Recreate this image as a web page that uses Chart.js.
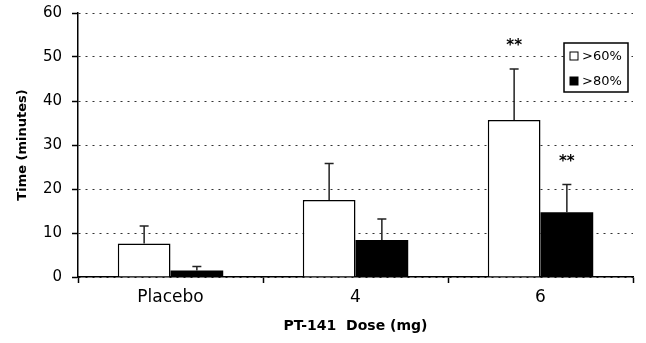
<!DOCTYPE html>
<html>
<head>
<meta charset="utf-8">
<script src="https://cdn.jsdelivr.net/npm/chart.js@4.4.0/dist/chart.umd.min.js"></script>
<style>
  html, body { margin: 0; padding: 0; background: #fff; }
  #wrap { width: 646px; height: 343px; }
</style>
</head>
<body>
<div id="wrap"><canvas id="grafico"></canvas></div>
<script>
// dados
const doses = ['Placebo', '4', '6'];
const serie60 = [7.6, 17.5, 35.7];
const erro60 = [4.0, 8.3, 11.6];
const serie80 = [1.5, 8.4, 14.7];
const erro80 = [0.9, 4.8, 6.3];
const estrelas60 = ['', '', '**'];
const estrelas80 = ['', '', '**'];
const yTicks = [0, 10, 20, 30, 40, 50, 60];

const fonte = "'DejaVu Sans', sans-serif";

const barrasErro = {
    id: 'barrasErro',
    afterDatasetsDraw(chart) {
        const ctx = chart.ctx;
        const y = chart.scales.y;
        const erros = [erro60, erro80];
        const estrelas = [estrelas60, estrelas80];
        chart.data.datasets.forEach((ds, i) => {
            const meta = chart.getDatasetMeta(i);
            meta.data.forEach((bar, j) => {
                const topo = y.getPixelForValue(ds.data[j] + erros[i][j]);
                ctx.save();
                ctx.strokeStyle = '#222';
                ctx.lineWidth = 1.5;
                ctx.beginPath();
                ctx.moveTo(bar.x, bar.y);
                ctx.lineTo(bar.x, topo);
                ctx.moveTo(bar.x - 4.5, topo);
                ctx.lineTo(bar.x + 4.5, topo);
                ctx.stroke();
                if (estrelas[i][j]) {
                    ctx.fillStyle = '#000';
                    ctx.font = 'bold 15px ' + fonte;
                    ctx.textAlign = 'center';
                    ctx.textBaseline = 'alphabetic';
                    ctx.fillText(estrelas[i][j], bar.x, topo - 19);
                }
                ctx.restore();
            });
        });
    }
};

const legendaCaixa = {
    id: 'legendaCaixa',
    afterDraw(chart) {
        const ctx = chart.ctx;
        const area = chart.chartArea;
        const x0 = area.right - 69, y0 = area.top + 30, w = 64, h = 49;
        ctx.save();
        ctx.fillStyle = '#fff';
        ctx.fillRect(x0, y0, w, h);
        ctx.strokeStyle = '#000';
        ctx.lineWidth = 1.5;
        ctx.strokeRect(x0, y0, w, h);
        chart.data.datasets.forEach((ds, i) => {
            const cy = y0 + 13 + i * 25;
            ctx.fillStyle = ds.backgroundColor;
            ctx.fillRect(x0 + 6, cy - 4, 8, 8);
            ctx.lineWidth = 1;
            ctx.strokeRect(x0 + 6, cy - 4, 8, 8);
            ctx.fillStyle = '#000';
            ctx.font = '13px ' + fonte;
            ctx.textAlign = 'left';
            ctx.textBaseline = 'middle';
            ctx.fillText(ds.label, x0 + 18, cy + 1);
        });
        ctx.restore();
    }
};

const ctx = document.getElementById('grafico').getContext('2d');
new Chart(ctx, {
    type: 'bar',
    data: {
        labels: doses,
        datasets: [{
            label: '>60%',
            data: serie60,
            backgroundColor: '#ffffff',
            borderColor: '#000000',
            borderWidth: 1.5,
            categoryPercentage: 0.57,
            barPercentage: 1.0
        }, {
            label: '>80%',
            data: serie80,
            backgroundColor: '#000000',
            borderColor: '#000000',
            borderWidth: 0,
            categoryPercentage: 0.57,
            barPercentage: 1.0
        }]
    },
    options: {
        responsive: true,
        maintainAspectRatio: false,
        animation: false,
        layout: { padding: { top: 13, right: 13, left: 0, bottom: 0 } },
        plugins: {
            legend: { display: false },
            tooltip: { enabled: false }
        },
        scales: {
            x: {
                afterFit: s => { s.height = 66; },
                grid: {
                    display: true,
                    drawOnChartArea: false,
                    tickLength: 6,
                    tickColor: '#000',
                    tickWidth: 1.5
                },
                border: { color: '#000', width: 1.5 },
                ticks: {
                    color: '#000',
                    padding: 4,
                    font: { family: fonte, size: 17 }
                },
                title: {
                    display: true,
                    text: 'PT-141  Dose (mg)',
                    color: '#000',
                    font: { family: fonte, size: 14, weight: 'bold' },
                    padding: { top: 4, bottom: 8 }
                }
            },
            y: {
                min: 0,
                max: 60,
                afterFit: s => {
                    s.width = 78;
                    s.paddingTop = 0;
                    s.paddingBottom = 0;
                },
                afterBuildTicks: s => { s.ticks = yTicks.map(v => ({ value: v })); },
                grid: {
                    color: '#333',
                    lineWidth: 1,
                    tickLength: 6,
                    tickColor: '#000',
                    tickWidth: 1.5,
                    tickBorderDash: []
                },
                border: { color: '#000', width: 1.5, dash: [2, 5] },
                ticks: {
                    color: '#000',
                    padding: 10,
                    font: { family: fonte, size: 15 }
                },
                title: {
                    display: true,
                    text: 'Time (minutes)',
                    color: '#000',
                    font: { family: fonte, size: 13, weight: 'bold' },
                    padding: { top: 15, bottom: 0 }
                }
            }
        }
    },
    plugins: [barrasErro, legendaCaixa]
});
</script>
</body>
</html>
